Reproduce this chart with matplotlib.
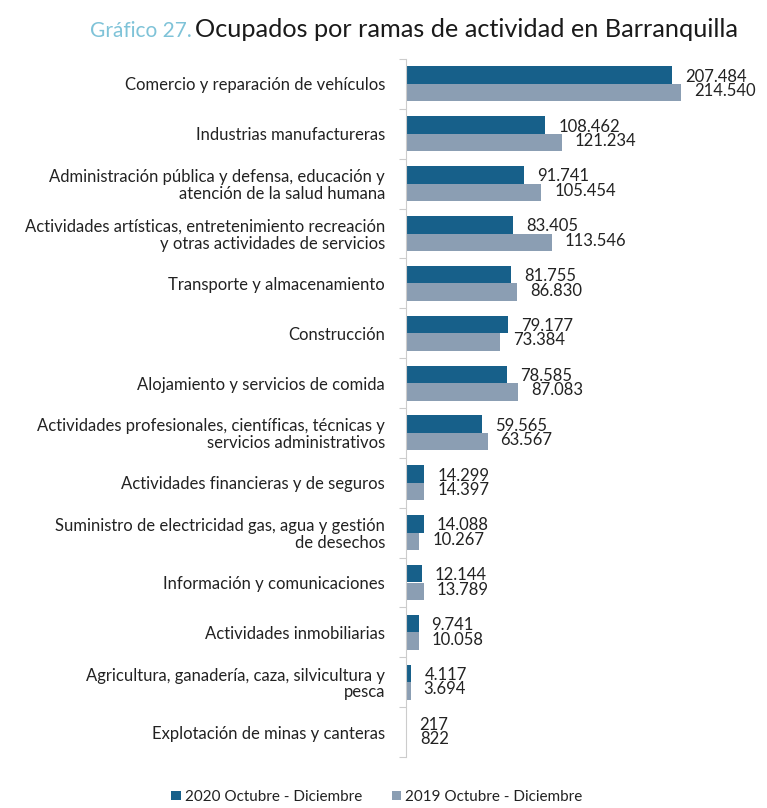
import matplotlib
matplotlib.use("Agg")
import matplotlib.pyplot as plt
import numpy as np
from matplotlib.transforms import offset_copy

categories = [
    "Comercio y reparación de vehículos",
    "Industrias manufactureras",
    "Administración pública y defensa, educación y\natención de la salud humana",
    "Actividades artísticas, entretenimiento recreación\ny otras actividades de servicios",
    "Transporte y almacenamiento",
    "Construcción",
    "Alojamiento y servicios de comida",
    "Actividades profesionales, científicas, técnicas y\nservicios administrativos",
    "Actividades financieras y de seguros",
    "Suministro de electricidad gas, agua y gestión\nde desechos",
    "Información y comunicaciones",
    "Actividades inmobiliarias",
    "Agricultura, ganadería, caza, silvicultura y\npesca",
    "Explotación de minas y canteras",
]
values_2020 = [207484, 108462, 91741, 83405, 81755, 79177, 78585, 59565,
               14299, 14088, 12144, 9741, 4117, 217]
values_2019 = [214540, 121234, 105454, 113546, 86830, 73384, 87083, 63567,
               14397, 10267, 13789, 10058, 3694, 822]
series_names = ["2020 Octubre - Diciembre", "2019 Octubre - Diciembre"]

FONT = ["Lato", "DejaVu Sans"]
plt.rcParams["font.family"] = FONT

c2020 = "#17608a"
c2019 = "#8b9eb3"
txt = "#222222"

fig = plt.figure(figsize=(7.67, 8.08), dpi=100)
W, H = 767, 808
left, right, top, bottom = 406, 759, 59, 757
ax = fig.add_axes([left / W, 1 - bottom / H, (right - left) / W, (bottom - top) / H])

n = len(categories)
y = np.arange(n)
bh = 0.35
ax.barh(y - bh / 2, values_2020, height=bh, color=c2020, label=series_names[0])
ax.barh(y + bh / 2, values_2019, height=bh, color=c2019, label=series_names[1])

ax.set_ylim(n - 0.5, -0.5)
ax.set_xlim(0, 275000)

def fmt(v):
    return f"{v:,}".replace(",", ".")

toff = offset_copy(ax.transData, fig=fig, x=13, y=0, units="dots")
for i in range(n):
    ax.text(values_2020[i], y[i] - bh / 2 + 0.03, fmt(values_2020[i]), transform=toff,
            ha="left", va="center", fontsize=12, color=txt)
    ax.text(values_2019[i], y[i] + bh / 2 - 0.03, fmt(values_2019[i]), transform=toff,
            ha="left", va="center", fontsize=12, color=txt)

ax.set_yticks(np.arange(n + 1) - 0.5, minor=True)
ax.set_yticks(y)
ax.set_yticklabels(categories, fontsize=12, color=txt, linespacing=1.05)
ax.tick_params(axis="y", which="major", length=0, pad=15)
ax.tick_params(axis="y", which="minor", length=5, color="#cccccc", width=0.8)
ax.set_xticks([])
for s in ["top", "right", "bottom"]:
    ax.spines[s].set_visible(False)
ax.spines["left"].set_color("#cccccc")
ax.spines["left"].set_linewidth(0.8)

t1 = fig.text(90 / W, 1 - 37 / H, "Gráfico 27.", color="#7fc3d8", fontsize=15,
              va="baseline", ha="left")
fig.canvas.draw()
bb = t1.get_window_extent()
fig.text((bb.x1 + 3) / W, 1 - 37 / H, "Ocupados por ramas de actividad en Barranquilla",
         color="#1a1a1a", fontsize=18.2, va="baseline", ha="left")

leg = fig.legend(loc="center", bbox_to_anchor=(377 / W, 1 - 797 / H), ncol=2, frameon=False,
                 fontsize=11, handlelength=0.6, handleheight=0.6, handletextpad=0.3,
                 columnspacing=1.9, labelcolor=txt)

fig.savefig("out.png", dpi=100)
